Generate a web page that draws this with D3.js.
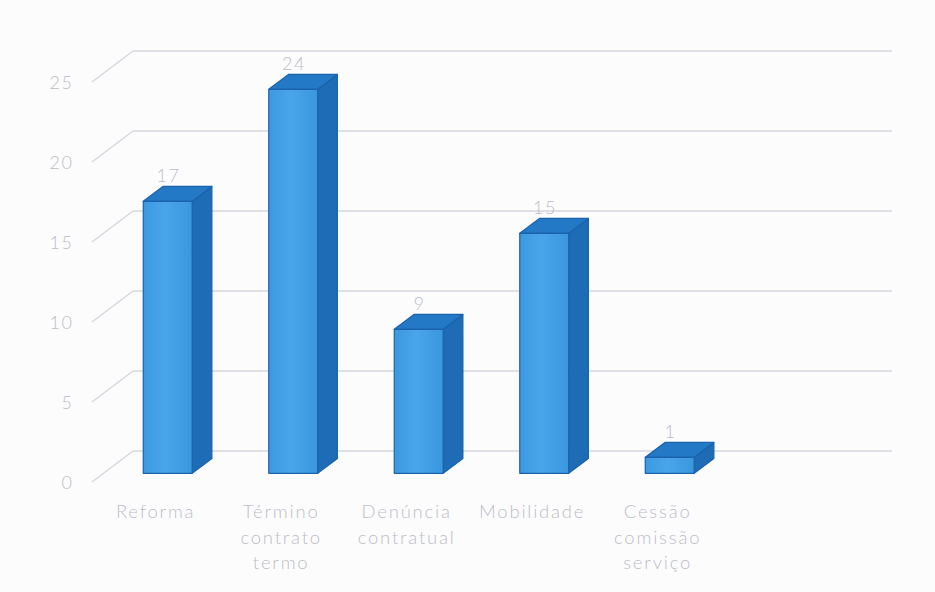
<!DOCTYPE html>
<html>
<head>
<meta charset="utf-8">
<script src="https://cdn.jsdelivr.net/npm/d3@7/dist/d3.min.js"></script>
<style>
  html, body { margin: 0; padding: 0; background: #fcfcfd; }
  svg { display: block; }
  text { font-family: Lato, "Open Sans", sans-serif; font-weight: 300; }
</style>
</head>
<body>
<svg id="chart" width="935" height="592"></svg>
<script>
// Saídas por motivo
const categories = ["Reforma", "Término contrato termo", "Denúncia contratual", "Mobilidade", "Cessão comissão serviço"];
const categoryLines = [["Reforma"], ["Término", "contrato", "termo"], ["Denúncia", "contratual"], ["Mobilidade"], ["Cessão", "comissão", "serviço"]];
const values = [17, 24, 9, 15, 1];
const yTicks = [0, 5, 10, 15, 20, 25];

const svg = d3.select("#chart");
const W = 935, H = 592;

svg.append("rect").attr("width", W).attr("height", H).attr("fill", "#fcfcfd");

// Oblique projection: depth 0 = front plane, depth 1 = back wall
const DX = 41, DY = -31;
const frontLeft = 92, wallRight = 892;
const bandW = 125.5;

const y = d3.scaleLinear().domain([0, 25]).range([482, 82]);
const x = d3.scaleBand().domain(categories)
  .range([frontLeft, frontLeft + bandW * categories.length])
  .paddingInner(0.61).paddingOuter(0.305);

const P = (px, v, depth) => [px + depth * DX, y(v) + depth * DY];

const gridColor = "#d6d6de";
const grid = svg.append("g");
yTicks.forEach(t => {
  const a = P(frontLeft, t, 0), b = P(frontLeft, t, 1);
  grid.append("line").attr("x1", a[0]).attr("y1", a[1]).attr("x2", b[0]).attr("y2", b[1])
    .attr("stroke", gridColor).attr("stroke-width", 1.3);
  grid.append("line").attr("x1", b[0]).attr("y1", b[1]).attr("x2", wallRight).attr("y2", b[1])
    .attr("stroke", gridColor).attr("stroke-width", 1.3);
});

const textColor = "#bcbcc6";

// value axis labels
svg.append("g").selectAll("text").data(yTicks).join("text")
  .attr("x", 73.5).attr("y", d => y(d) + 6.5)
  .attr("text-anchor", "end")
  .attr("font-size", 18)
  .attr("letter-spacing", 1.5)
  .attr("fill", textColor)
  .text(d => d);

// gradient for bar fronts
const defs = svg.append("defs");
const g = defs.append("linearGradient").attr("id", "front").attr("x1", 0).attr("x2", 1).attr("y1", 0).attr("y2", 0);
g.append("stop").attr("offset", "0%").attr("stop-color", "#3d98e0");
g.append("stop").attr("offset", "45%").attr("stop-color", "#4aa6ea");
g.append("stop").attr("offset", "100%").attr("stop-color", "#3a96de");

const d0 = 0.28, d1 = 0.76;
const line = pts => "M" + pts.map(p => p.join(",")).join("L") + "Z";
const bars = svg.append("g");
categories.forEach((c, i) => {
  const v = values[i];
  const xl = x(c) + 1.5, xr = x(c) + x.bandwidth() + 1.5;
  const fbl = P(xl, 0, d0), fbr = P(xr, 0, d0), ftl = P(xl, v, d0), ftr = P(xr, v, d0);
  const bbr = P(xr, 0, d1), btl = P(xl, v, d1), btr = P(xr, v, d1);
  const gb = bars.append("g").attr("stroke", "#1a63ab").attr("stroke-width", 1.2).attr("stroke-linejoin", "round");
  gb.append("path").attr("d", line([fbr, bbr, btr, ftr])).attr("fill", "#1e6bb6");
  gb.append("path").attr("d", line([ftl, ftr, btr, btl])).attr("fill", "#2479c7");
  gb.append("path").attr("d", line([fbl, fbr, ftr, ftl])).attr("fill", "url(#front)");

  // value label
  svg.append("text")
    .attr("x", (xl + xr) / 2 + d0 * DX + 0.75)
    .attr("y", btl[1] - 4)
    .attr("text-anchor", "middle")
    .attr("font-size", 18)
    .attr("letter-spacing", 1.5)
    .attr("fill", textColor)
    .text(v);
});

// category labels
categoryLines.forEach((lines, i) => {
  const cx = x(categories[i]) + x.bandwidth() / 2 + 0.9;
  const t = svg.append("text").attr("text-anchor", "middle").attr("font-size", 18.5)
    .attr("fill", textColor).attr("letter-spacing", 1.8);
  lines.forEach((l, k) => {
    t.append("tspan").attr("x", cx).attr("y", 518 + k * 25.5).text(l);
  });
});
</script>
</body>
</html>
